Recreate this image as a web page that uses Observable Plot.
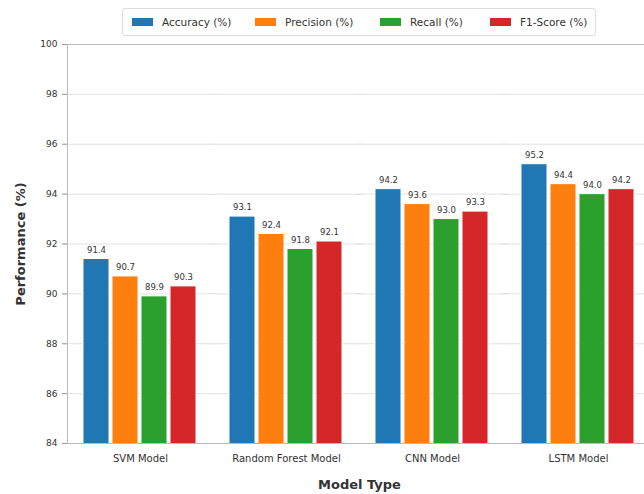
<!DOCTYPE html>
<html>
<head>
<meta charset="utf-8">
<script src="https://cdn.jsdelivr.net/npm/d3@7"></script>
<script src="https://cdn.jsdelivr.net/npm/@observablehq/plot@0.6"></script>
<style>
  html, body { margin: 0; padding: 0; background: #fff; overflow: hidden; }
  #wrap { position: relative; width: 644px; height: 494px; overflow: hidden; font-family: "DejaVu Sans", sans-serif; }
  #chart { width: 664px; }
  #chart svg { max-width: none !important; width: 664px !important; height: 494px !important; display: block; }
  #legend { position: absolute; left: 122px; top: 8px; width: 474px; height: 28px; border: 1px solid #ddd; border-radius: 3px; background: #fff; box-sizing: border-box; z-index: 2; }
  .item { position: absolute; top: 0; height: 26px; display: flex; align-items: center; font-size: 10.5px; color: #333; white-space: nowrap; }
  .sw { width: 21px; height: 8px; margin-right: 9px; }
  #chart svg g[aria-label="fx-axis tick label"] text { font-size: 10px; }
  #chart svg g[aria-label="y-axis label"] text,
  #chart svg g[aria-label="fx-axis label"] text { font-size: 13px; font-weight: bold; fill: #333; }
</style>
</head>
<body>
<div id="wrap">
  <div id="legend"></div>
  <div id="chart"></div>
</div>
<script>
const models = ["SVM Model", "Random Forest Model", "CNN Model", "LSTM Model"];
const metrics = ["Accuracy (%)", "Precision (%)", "Recall (%)", "F1-Score (%)"];
const accuracy = [91.4, 93.1, 94.2, 95.2];
const precision = [90.7, 92.4, 93.6, 94.4];
const recall = [89.9, 91.8, 93.0, 94.0];
const f1score = [90.3, 92.1, 93.3, 94.2];
const yTicks = [84, 86, 88, 90, 92, 94, 96, 98, 100];
const colors = ["#1f77b4", "#ff7f0e", "#2ca02c", "#d62728"];

const series = [accuracy, precision, recall, f1score];
const data = [];
models.forEach((m, i) => metrics.forEach((k, j) => data.push({model: m, metric: k, value: series[j][i]})));

// legend
const legend = document.getElementById("legend");
const itemLeft = [9, 132, 257, 367];
metrics.forEach((k, j) => {
  const it = document.createElement("div");
  it.className = "item";
  it.style.left = itemLeft[j] + "px";
  it.innerHTML = `<span class="sw" style="background:${colors[j]}"></span><span>${k}</span>`;
  legend.appendChild(it);
});

const chart = Plot.plot({
  width: 664,
  height: 494,
  marginTop: 44,
  marginBottom: 51,
  marginLeft: 62,
  marginRight: 8,
  style: {fontFamily: "DejaVu Sans, sans-serif", fontSize: "9px", background: "transparent", color: "#333"},
  fx: {domain: models, paddingInner: 0, paddingOuter: 0.025},
  x: {domain: metrics, paddingInner: 0.1, paddingOuter: 0.55, axis: null},
  y: {domain: [84, 100]},
  color: {domain: metrics, range: colors},
  marks: [
    Plot.gridY(yTicks, {stroke: "#e3e3e3", strokeOpacity: 1, strokeWidth: 1, insetLeft: -4, insetRight: -4}),
    Plot.barY(data, {fx: "model", x: "metric", y: "value", fill: "metric", stroke: "white", strokeWidth: 1, clip: true}),
    Plot.text(data, {fx: "model", x: "metric", y: "value", text: d => d.value.toFixed(1), dy: -9, fontSize: 8.5, fill: "#333", stroke: "white", strokeWidth: 2}),
    Plot.frame({facet: "super", stroke: "#bbb"}),
    Plot.axisY({ticks: yTicks, tickSize: 5, tickPadding: 5, stroke: "#999", label: "Performance (%)", labelAnchor: "center", labelArrow: "none", labelOffset: 52}),
    Plot.axisFx({anchor: "bottom", tickSize: 0, tickPadding: 11, label: "Model Type", labelAnchor: "center", labelArrow: "none", labelOffset: 45})
  ]
});
document.getElementById("chart").appendChild(chart);
</script>
</body>
</html>
